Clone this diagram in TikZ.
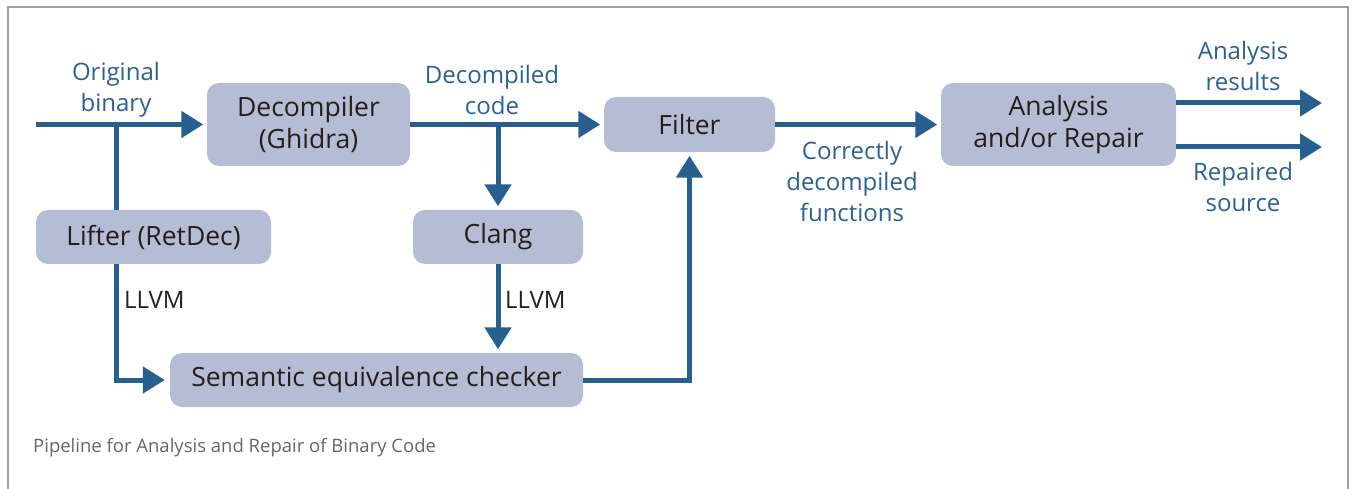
\documentclass[tikz,border=0pt]{standalone}
\usepackage{fontspec}
\setmainfont{Open Sans}
\usetikzlibrary{arrows.meta,calc}
\definecolor{boxfill}{HTML}{B4BDD4}
\definecolor{flow}{HTML}{27608F}
\definecolor{lbl}{HTML}{2B6193}
\definecolor{boxtxt}{HTML}{231F20}
\definecolor{frame}{HTML}{A0A0A0}
\definecolor{captxt}{HTML}{666666}
\tikzset{
  blk/.style={fill=boxfill, rounded corners=12pt, inner sep=0pt, text=boxtxt, align=center,
              font=\fontsize{26.5}{32}\selectfont},
  flowline/.style={draw=flow, line width=5pt},
  arr/.style={flowline, -{Triangle[length=22pt,width=26pt]}, shorten >=3.5pt},
  lab/.style={text=lbl, align=center, inner sep=0pt, font=\fontsize{24}{31}\selectfont},
  llvm/.style={text=boxtxt, anchor=west, inner sep=0pt, font=\fontsize{24}{28}\selectfont},
}
\begin{document}
\begin{tikzpicture}[x=1pt,y=-1pt]
\useasboundingbox (0,0) rectangle (1353,489);
\draw[frame, line width=1.2pt] (8,489) -- (8,7) -- (1348,7) -- (1348,489);

% boxes
\node[blk, minimum width=203pt, minimum height=83pt] (dec) at (308.5,124.5) {Decompiler\\(Ghidra)};
\node[blk, minimum width=235pt, minimum height=54pt] (lift) at (153.5,237) {Lifter (RetDec)};
\node[blk, minimum width=171pt, minimum height=55pt] (filt) at (689.5,124.5) {Filter};
\node[blk, minimum width=170pt, minimum height=54pt] (clang) at (498,237) {Clang};
\node[blk, minimum width=235pt, minimum height=83pt] (anl) at (1058.5,124.5) {Analysis\\and/or Repair};
\node[blk, minimum width=413pt, minimum height=54pt] (sem) at (376.5,380) {Semantic equivalence checker};

% coordinates
\coordinate (in) at (36,124.5);
\coordinate (b1) at (116,124.5);
\coordinate (b2) at (498,124.5);
\coordinate (o1) at (1322,103);
\coordinate (o2) at (1322,147);

% connectors
\draw[arr] (in) -- (dec.west);
\draw[flowline] (b1) -- (lift.north -| b1);
\draw[arr, shorten >=5pt] (lift.south -| b1) |- (sem.west);
\draw[arr] (dec.east) -- (filt.west);
\draw[arr] (b2) -- (clang.north);
\draw[arr] (clang.south) -- (clang.south |- sem.north);
\draw[arr] (sem.east) -| (filt.south);
\draw[arr] (filt.east) -- (anl.west);
\draw[arr, shorten >=0pt] (anl.east |- o1) -- (o1);
\draw[arr, shorten >=0pt] (anl.east |- o2) -- (o2);

% labels
\node[lab] (lorig) at (116,90) {Original\\binary};
\node[lab] (ldec) at (492,90) {Decompiled\\code};
\node[lab] (lcorr) at (852,182) {Correctly\\decompiled\\functions};
\node[lab] (lres) at (1243,66) {Analysis\\results};
\node[lab] (lrep) at (1243,187) {Repaired\\source};
\node[llvm] (llvm1) at (124,300) {LLVM};
\node[llvm] (llvm2) at (505,300) {LLVM};

\node[anchor=west, inner sep=0pt, text=captxt, font=\fontsize{18.5}{22}\selectfont] (cap) at (33,448) {Pipeline for Analysis and Repair of Binary Code};
\end{tikzpicture}
\end{document}
